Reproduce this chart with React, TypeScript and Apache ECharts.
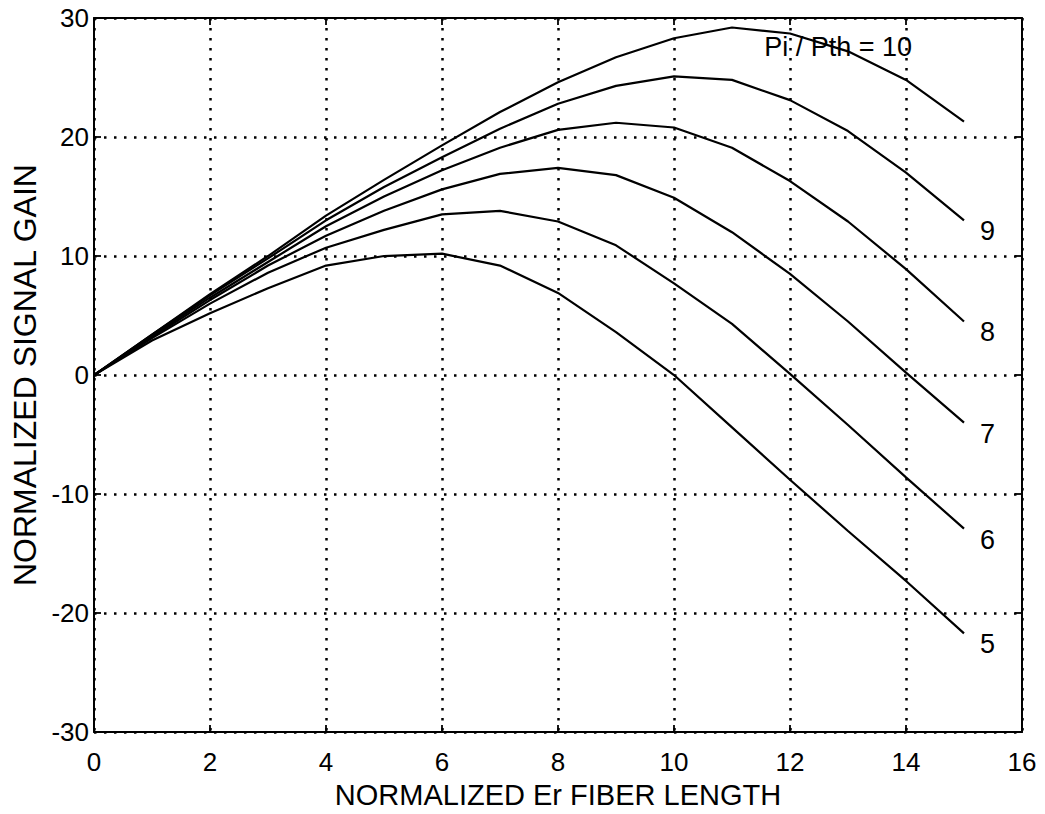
import React, { useEffect, useRef } from "react";
import * as echarts from "echarts";

const xs = [0, 1, 2, 3, 4, 5, 6, 7, 8, 9, 10, 11, 12, 13, 14, 15];
const gain5 = [0, 2.9, 5.2, 7.3, 9.2, 10.0, 10.2, 9.2, 6.9, 3.6, 0, -4.4, -8.8, -13.1, -17.3, -21.7];
const gain6 = [0, 3.1, 6.0, 8.6, 10.7, 12.2, 13.5, 13.8, 12.9, 10.9, 7.7, 4.3, 0.1, -4.2, -8.6, -12.9];
const gain7 = [0, 3.2, 6.3, 9.2, 11.7, 13.8, 15.6, 16.9, 17.4, 16.8, 14.9, 12.0, 8.5, 4.5, 0.2, -4.0];
const gain8 = [0, 3.3, 6.5, 9.5, 12.5, 15.0, 17.2, 19.1, 20.6, 21.2, 20.8, 19.1, 16.3, 12.9, 8.9, 4.5];
const gain9 = [0, 3.4, 6.7, 9.8, 13.0, 15.8, 18.3, 20.7, 22.8, 24.3, 25.1, 24.8, 23.1, 20.5, 17.0, 13.0];
const gain10 = [0, 3.4, 6.8, 10.0, 13.4, 16.4, 19.3, 22.1, 24.6, 26.7, 28.3, 29.2, 28.7, 27.2, 24.8, 21.3];

const curveLabels = ["5", "6", "7", "8", "9"];
const curveValues = [gain5, gain6, gain7, gain8, gain9];
const topLabel = "Pi / Pth = 10";
const topLabelCoord = [12.83, 27.6];

const xTitle = "NORMALIZED Er FIBER LENGTH";
const yTitle = "NORMALIZED SIGNAL GAIN";

const FONT = '"Liberation Sans", Arial, Helvetica, sans-serif';

export default function App() {
  const ref = useRef<HTMLDivElement>(null);

  useEffect(() => {
    if (!ref.current) return;
    const chart = echarts.init(ref.current, undefined, { renderer: "svg" });

    const toPairs = (vals: number[]) => xs.map((x, i) => [x, vals[i]]);

    const lineBase = {
      type: "line",
      showSymbol: false,
      symbol: "none",
      lineStyle: { color: "#000", width: 2.2 },
      itemStyle: { color: "#000" },
      silent: true,
    };

    const series: any[] = curveValues.map((vals, i) => ({
      ...lineBase,
      name: "P" + curveLabels[i],
      data: toPairs(vals),
      endLabel: {
        show: true,
        formatter: curveLabels[i],
        color: "#000",
        fontSize: 27,
        fontFamily: FONT,
        offset: [8, 11],
      },
    }));

    series.push({
      ...lineBase,
      name: "P10",
      data: toPairs(gain10),
      markPoint: {
        silent: true,
        symbol: "circle",
        symbolSize: 0,
        data: [
          {
            coord: topLabelCoord,
            label: {
              show: true,
              position: "inside",
              formatter: topLabel,
              color: "#000",
              fontSize: 27,
              fontFamily: FONT,
            },
          },
        ],
      },
    });

    const tickStyle = { inside: true, length: 7, lineStyle: { color: "#000", width: 1.8 } };
    const axisLineStyle = { show: true, onZero: false, lineStyle: { color: "#000", width: 2 } };
    const gridLine = { show: true, lineStyle: { color: "#000", width: 2.5, type: [2.5, 7.5] as any } };

    chart.setOption({
      animation: false,
      backgroundColor: "#fff",
      textStyle: { fontFamily: FONT },
      grid: { left: 94, right: 23, top: 18, bottom: 72, containLabel: false },
      xAxis: [
        {
          type: "value",
          min: 0,
          max: 16,
          interval: 2,
          position: "bottom",
          name: xTitle,
          nameLocation: "middle",
          nameGap: 38,
          nameTextStyle: { color: "#000", fontSize: 29, fontFamily: FONT },
          axisLine: axisLineStyle,
          axisTick: tickStyle,
          axisLabel: { color: "#000", fontSize: 26, fontFamily: FONT, margin: 17 },
          splitLine: gridLine,
        },
        {
          type: "value",
          min: 0,
          max: 16,
          interval: 2,
          position: "top",
          axisLine: axisLineStyle,
          axisTick: tickStyle,
          axisLabel: { show: false },
          splitLine: { show: false },
        },
      ],
      yAxis: [
        {
          type: "value",
          min: -30,
          max: 30,
          interval: 10,
          position: "left",
          name: yTitle,
          nameLocation: "middle",
          nameGap: 48,
          nameRotate: 90,
          nameTextStyle: { color: "#000", fontSize: 32, fontFamily: FONT },
          axisLine: axisLineStyle,
          axisTick: tickStyle,
          axisLabel: { color: "#000", fontSize: 26, fontFamily: FONT, margin: 5 },
          splitLine: gridLine,
        },
        {
          type: "value",
          min: -30,
          max: 30,
          interval: 10,
          position: "right",
          axisLine: axisLineStyle,
          axisTick: tickStyle,
          axisLabel: { show: false },
          splitLine: { show: false },
        },
      ],
      series,
    });

    return () => chart.dispose();
  }, []);

  return (
    <div
      ref={ref}
      style={{ position: "absolute", left: 0, top: 0, width: 1045, height: 814, background: "#fff" }}
    />
  );
}
